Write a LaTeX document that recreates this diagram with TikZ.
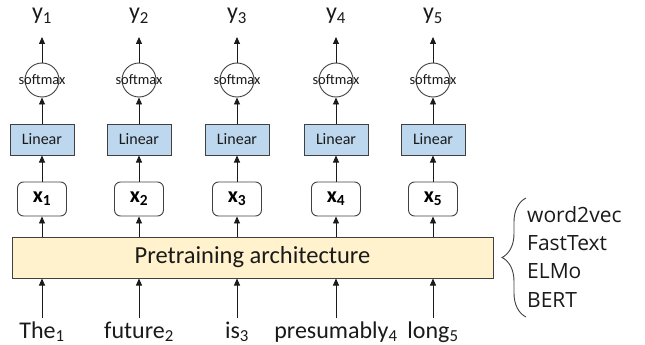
\documentclass[tikz,border=0pt]{standalone}
\usepackage{fontspec}
\setmainfont{Carlito}
\newfontfamily\listfont{Open Sans}
\usetikzlibrary{arrows.meta,decorations.pathreplacing}
\definecolor{linfill}{HTML}{BDD7EE}
\definecolor{prefill}{HTML}{FFF2CC}
\definecolor{edge}{HTML}{404040}
\definecolor{ink}{HTML}{1A1A1A}
\begin{document}
\begin{tikzpicture}[x=1pt,y=-1pt,
  arr/.style={-{Triangle[length=7pt,width=6pt]}, line width=0.9pt, draw=ink},
  linbox/.style={draw=edge, fill=linfill, line width=1pt, minimum width=64pt, minimum height=31pt, inner sep=0pt, font=\fontsize{16}{16}\selectfont, text=ink},
  xbox/.style={draw=edge, rounded corners=6pt, line width=0.9pt, minimum width=49pt, minimum height=34pt, inner sep=0pt, font=\fontsize{22}{22}\selectfont\bfseries, text=black},
  smx/.style={draw=edge, circle, minimum size=34pt, inner sep=0pt, line width=0.9pt, fill=white},
  smxtext/.style={font=\fontsize{14.5}{14.5}\selectfont, text=ink, inner sep=0pt},
  ylab/.style={font=\fontsize{24}{24}\selectfont, text=ink, anchor=south, inner xsep=0pt, inner ysep=12pt, text depth=5pt},
  wordlab/.style={font=\fontsize{24}{24}\selectfont, text=ink, anchor=base, inner xsep=0pt, inner ysep=4pt, text height=16pt},
  prebox/.style={draw=edge, fill=prefill, line width=1pt, minimum width=481pt, minimum height=41pt, inner sep=0pt, font=\fontsize{24.5}{24.5}\selectfont, text=ink},
  listlab/.style={font=\listfont\fontsize{21}{21}\selectfont, text=ink, anchor=base west, inner sep=0pt}
]
\useasboundingbox (0,0) rectangle (645,345);
\node[prebox] (pre) at (252.5,257.5) {Pretraining architecture};
\foreach \i/\x/\w in {1/42/The,2/139/future,3/237/is,4/336/presumably,5/433/long}{
  \node[wordlab] (w\i) at (\x,338) {\w\textsubscript{\i}};
  \node[xbox] (x\i) at (\x,199) {x\textsubscript{\i}};
  \node[linbox] (l\i) at (\x,139.5) {Linear};
  \node[smx] (s\i) at (\x,80) {};
  \node[smxtext] (st\i) at (s\i) {softmax};
  \node[ylab] (y\i) at (\x,37) {y\textsubscript{\i}};
  \draw[arr] (w\i.north) -- (w\i.north |- pre.south);
  \draw[arr] (pre.north -| x\i.south) -- (x\i.south);
  \draw[arr] (x\i.north) -- (l\i.south);
  \draw[arr] (l\i.north) -- (s\i.south);
  \draw[arr] (s\i.north) -- (y\i.south);
}
\coordinate (bt) at (526,317);
\coordinate (bb) at (526,198);
\draw[edge, line width=0.9pt, decorate, decoration={brace, amplitude=24pt, aspect=0.5}] (bt) -- (bb);
\node[listlab] (m1) at (527,222) {word2vec};
\node[listlab] (m2) at (527,250) {FastText};
\node[listlab] (m3) at (527,278) {ELMo};
\node[listlab] (m4) at (527,307) {BERT};
\end{tikzpicture}
\end{document}
